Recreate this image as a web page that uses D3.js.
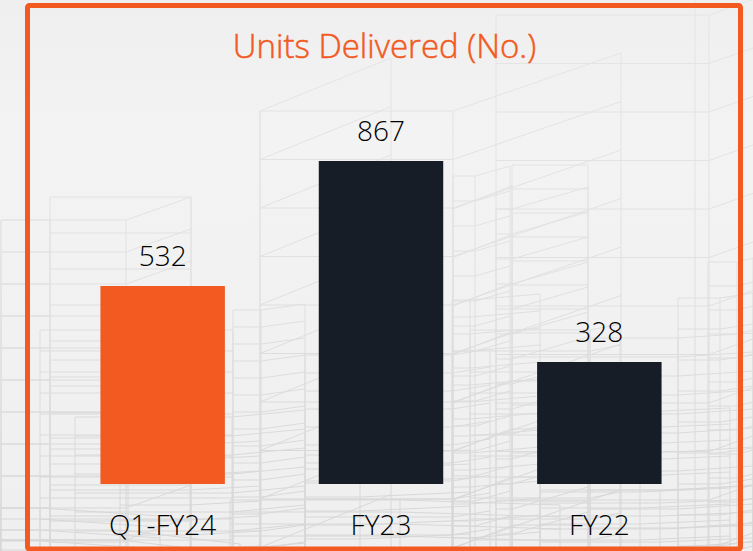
<!DOCTYPE html>
<html><head><meta charset="utf-8">
<script src="https://cdn.jsdelivr.net/npm/d3@7/dist/d3.min.js"></script>
<style>html,body{margin:0;padding:0;background:#f1f1f1;overflow:hidden}svg{display:block}</style>
</head><body><svg id="c" width="753" height="551"></svg>
<script>
const categories = ["Q1-FY24", "FY23", "FY22"];
const values = [532, 867, 328];
const barColors = ["#f25a22", "#161d27", "#161d27"];
const title = "Units Delivered (No.)";
// Faint wireframe backdrop: left edge, front corner, back corner, top, floor height, perspective rise
const buildings = [
  [50,191,191,197,36,0],[1,126,191,220,32,23],[1,50,50,220,32,23],
  [260,260,391,111,48.5,53],[260,453,621,111,48.5,58],[496,709,760,15,48.5,18],[695,695,695,-10,48.5,0],
  [453,453,512,209,48.5,23],[512,588,588,165,24,0],[453,475,510,176,25,10],[496,512,588,209,25,22],
  [678,720,753,298,31,5],[708,737,753,262,24,4],
  [40,233,233,330,21,0],[50,128,128,360,26,0],[233,261,305,310,17,6],[75,232,305,417,19,7],
  [120,190,260,445,15,4],[305,452,490,355,18,6],[305,360,470,455,14,5],
  [452,470,540,300,17,6],[470,590,620,330,21,6],[590,678,753,338,19,5],[540,640,730,412,16,4],
  [0,40,160,508,11,-8],[0,120,240,530,10,-14],[230,400,560,500,12,-5],[540,660,753,490,13,4]
];

const svg = d3.select("#c");
const defs = svg.append("defs");
const g = defs.append("linearGradient").attr("id","bg").attr("x1",0).attr("y1",0).attr("x2",0).attr("y2",1);
g.append("stop").attr("offset",0).attr("stop-color","#efefef");
g.append("stop").attr("offset",.25).attr("stop-color","#f3f3f3");
g.append("stop").attr("offset",1).attr("stop-color","#efefef");
const ink = defs.append("linearGradient").attr("id","ink").attr("gradientUnits","userSpaceOnUse")
  .attr("x1",0).attr("y1",0).attr("x2",0).attr("y2",551);
ink.append("stop").attr("offset",0).attr("stop-color","#e5e5e5");
ink.append("stop").attr("offset",.45).attr("stop-color","#e1e1e1");
ink.append("stop").attr("offset",1).attr("stop-color","#d6d6d6");
svg.append("rect").attr("width",753).attr("height",551).attr("fill","url(#bg)");

const decor = svg.append("g").attr("stroke","url(#ink)").attr("stroke-width",1).attr("fill","none");
const seg = (a,b,c,d)=>decor.append("path").attr("d",d3.line()([[a,b],[c,d]]));
buildings.forEach(([x0,xa,xb,top,fh,rise])=>{
  d3.range(top,551,fh).forEach(yy=>{
    if(xa>x0) seg(x0,yy,xa,yy);
    if(xb>xa) seg(xa,yy,xb,yy-rise);
  });
  seg(x0,top,x0,551);
  if(xa>x0) seg(xa,top,xa,551);
  if(xb>xa) seg(xb,top-rise,xb,551);
});

const x = d3.scaleBand().domain(categories).range([31,731]).paddingInner(0.43).paddingOuter(0.318);
const y = d3.scaleLinear().domain([0,867]).rangeRound([484,161]);
const font = "'Open Sans','Noto Sans',sans-serif";

svg.append("g").selectAll("rect").data(categories).join("rect")
  .attr("x",d=>x(d)).attr("width",x.bandwidth())
  .attr("y",(d,i)=>y(values[i])).attr("height",(d,i)=>y(0)-y(values[i]))
  .attr("fill",(d,i)=>barColors[i]);

svg.append("g").selectAll("text").data(categories).join("text")
  .attr("x",d=>x(d)+x.bandwidth()/2).attr("y",(d,i)=>y(values[i])-20)
  .attr("text-anchor","middle").attr("font-family",font).attr("font-weight",300)
  .attr("font-size",28).attr("fill","#000").text((d,i)=>values[i]);

const axis = d3.axisBottom(x).tickSize(0).tickPadding(0);
const ax = svg.append("g").attr("transform","translate(0,515)").call(axis);
ax.select(".domain").remove();
ax.selectAll("text").attr("font-family",font).attr("font-weight",300).attr("font-size",28).attr("fill","#000").attr("dy","0.71em");

svg.append("text").attr("x",384.5).attr("y",58).attr("text-anchor","middle")
  .attr("font-family",font).attr("font-weight",300).attr("font-size",33).attr("fill","#f25a22")
  .attr("stroke","#f25a22").attr("stroke-width",0.5).text(title);

svg.append("rect").attr("x",27.5).attr("y",5.5).attr("width",713).attr("height",543.5)
  .attr("rx",2).attr("fill","none").attr("stroke","#f25a22").attr("stroke-width",5);
</script></body></html>
